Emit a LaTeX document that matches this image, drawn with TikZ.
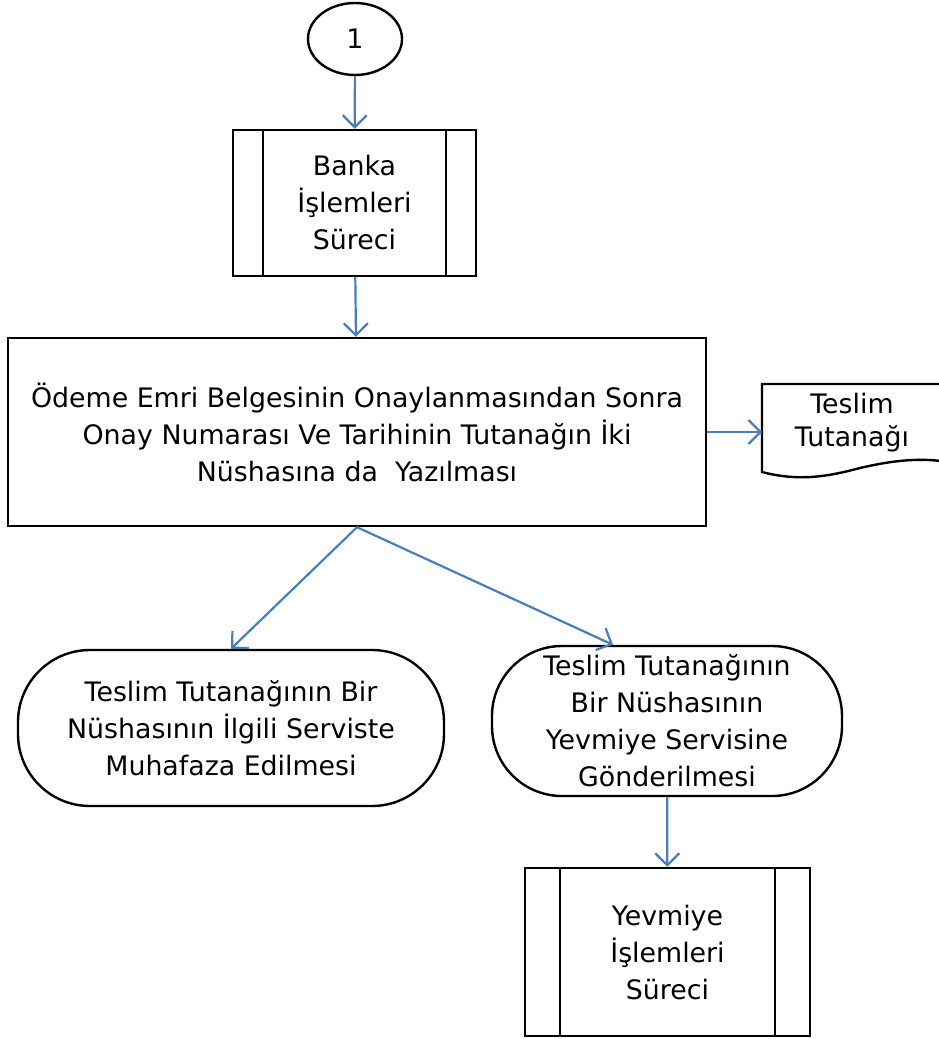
\documentclass[tikz,border=0pt]{standalone}
\usepackage{fontspec}
\setmainfont{DejaVu Sans}
\usetikzlibrary{arrows.meta,shapes.geometric}
\definecolor{arrowblue}{HTML}{4A7EBB}
\tikzset{
  box/.style={draw=black,line width=2.4pt,fill=white,align=center,font=\fontsize{26.8}{37}\selectfont},
  txt/.style={align=center,font=\fontsize{26.8}{33}\selectfont},
  flow/.style={draw=arrowblue,line width=2.2pt,-{Straight Barb[length=12pt,width=24pt,line width=2.2pt]}},
}
\begin{document}
\begin{tikzpicture}[x=1pt,y=-1pt]
\useasboundingbox (0,0) rectangle (939,1039);
% start ellipse
\node[box,ellipse,minimum width=94pt,minimum height=72pt,inner sep=0pt] (start) at (355,39) {1};
% predefined process 1
\node[box,minimum width=243pt,minimum height=146pt,inner sep=0pt] (banka) at (354.5,203) {Banka\\İşlemleri\\Süreci};
\draw[line width=2.4pt] (263,130) -- (263,276) (446,130) -- (446,276);
% big rect
\node[box,minimum width=698pt,minimum height=188pt,inner sep=0pt] (odeme) at (357,432) {Ödeme Emri Belgesinin Onaylanmasından Sonra\\Onay Numarası Ve Tarihinin Tutanağın İki\\Nüshasına da\ \ Yazılması};
% document
\draw[line width=2.4pt,fill=white] (941,384) -- (762,384) -- (762,472) .. controls (800,482) and (830,476) .. (860,468) .. controls (890,461) and (915,458) .. (941,461);
\coordinate (docleft) at (762,432);
\node[txt] (doc) at (852,423) {Teslim\\Tutanağı};
% terminators
\node[box,rounded corners=72pt,minimum width=426pt,minimum height=156pt,inner sep=0pt] (left) at (231,728) {Teslim Tutanağının Bir\\Nüshasının İlgili Serviste\\Muhafaza Edilmesi};
\node[box,rounded corners=70pt,minimum width=350pt,minimum height=150pt,inner sep=0pt] (right) at (667,721) {Teslim Tutanağının\\Bir Nüshasının\\Yevmiye Servisine\\Gönderilmesi};
\coordinate (rightin) at ([xshift=-54pt]right.north);
% predefined process 2
\node[box,minimum width=285pt,minimum height=168pt,inner sep=0pt] (yevmiye) at (667.5,952) {Yevmiye\\İşlemleri\\Süreci};
\draw[line width=2.4pt] (560,868) -- (560,1036) (775,868) -- (775,1036);
% connectors
\draw[flow] (start) -- (banka);
\draw[flow] (banka) -- (odeme);
\draw[flow] (odeme.east) -- (docleft);
\draw[flow] (odeme.south) -- (left.north);
\draw[flow] (odeme.south) -- (rightin);
\draw[flow] (right) -- (yevmiye);
\end{tikzpicture}
\end{document}
